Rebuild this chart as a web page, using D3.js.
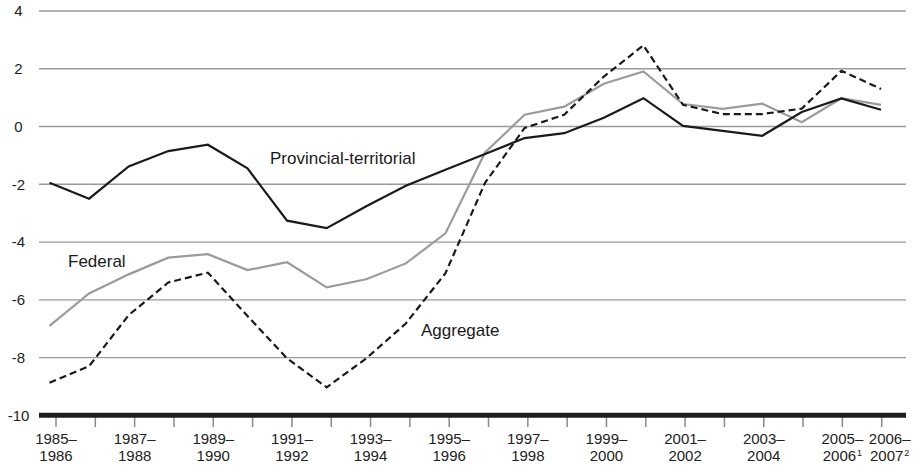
<!DOCTYPE html>
<html>
<head>
<meta charset="utf-8">
<script src="https://cdn.jsdelivr.net/npm/d3@7"></script>
<style>
  body { margin: 0; background: #fff; }
  svg { display: block; font-family: "Liberation Sans", Arial, sans-serif; }
</style>
</head>
<body>
<svg id="chart" width="913" height="467"></svg>
<script>
var years = ['1985', '1986', '1987', '1988', '1989', '1990', '1991', '1992', '1993', '1994', '1995',
    '1996', '1997', '1998', '1999', '2000', '2001', '2002', '2003', '2004', '2005', '2006'];

var provincial = [-1.95, -2.5, -1.38, -0.85, -0.63, -1.45, -3.26, -3.52, -2.76, -2.05, -1.5,
    -0.95, -0.4, -0.23, 0.3, 0.98, 0.02, -0.15, -0.32, 0.5, 0.97, 0.58];
var federal = [-6.9, -5.78, -5.12, -4.54, -4.42, -4.97, -4.7, -5.57, -5.29, -4.74, -3.7,
    -0.9, 0.41, 0.69, 1.48, 1.91, 0.78, 0.61, 0.79, 0.15, 0.98, 0.75];
var aggregate = [-8.87, -8.3, -6.53, -5.4, -5.06, -6.56, -8.03, -9.03, -8.03, -6.82, -5.08,
    -1.95, -0.05, 0.41, 1.73, 2.81, 0.75, 0.43, 0.43, 0.62, 1.93, 1.3];

var yTicks = [-10, -8, -6, -4, -2, 0, 2, 4];
// labelled ticks: index into years, two text lines, footnote mark
var xLabels = [
    {i: 0, a: '1985–', b: '1986', note: ''},
    {i: 2, a: '1987–', b: '1988', note: ''},
    {i: 4, a: '1989–', b: '1990', note: ''},
    {i: 6, a: '1991–', b: '1992', note: ''},
    {i: 8, a: '1993–', b: '1994', note: ''},
    {i: 10, a: '1995–', b: '1996', note: ''},
    {i: 12, a: '1997–', b: '1998', note: ''},
    {i: 14, a: '1999–', b: '2000', note: ''},
    {i: 16, a: '2001–', b: '2002', note: ''},
    {i: 18, a: '2003–', b: '2004', note: ''},
    {i: 20, a: '2005–', b: '2006', note: '1'},
    {i: 21, a: '2006–', b: '2007', note: '2'}
];

var svg = d3.select('#chart');
var left = 39, right = 906;

var y = d3.scaleLinear().domain([-10, 4]).range([415.3, 11]);
var xTick = d3.scalePoint().domain(years).range([56, 881.7]);
var xLine = d3.scalePoint().domain(years).range([49.5, 881]);

// gridlines
svg.append('g').selectAll('line')
    .data(yTicks.filter(function(d){ return d != -10; }))
    .enter().append('line')
    .attr('x1', left).attr('x2', right)
    .attr('y1', function(d){ return y(d); })
    .attr('y2', function(d){ return y(d); })
    .attr('stroke', '#9a9a9a')
    .attr('stroke-width', 1.3);

// y labels
svg.append('g').selectAll('text')
    .data(yTicks)
    .enter().append('text')
    .attr('x', 18.5)
    .attr('y', function(d){ return y(d); })
    .attr('dy', '0.36em')
    .attr('text-anchor', 'middle')
    .attr('font-size', '15px')
    .attr('fill', '#222')
    .text(function(d){ return d; });

// x tick marks
svg.append('g').selectAll('line')
    .data(years)
    .enter().append('line')
    .attr('x1', function(d){ return xTick(d); })
    .attr('x2', function(d){ return xTick(d); })
    .attr('y1', 417).attr('y2', 427)
    .attr('stroke', '#8a8a8a')
    .attr('stroke-width', 1.5);

// thick base line at -10
svg.append('line')
    .attr('x1', left).attr('x2', right)
    .attr('y1', y(-10)).attr('y2', y(-10))
    .attr('stroke', '#1e1e1e')
    .attr('stroke-width', 5);

// x labels
var lab = svg.append('g').selectAll('text')
    .data(xLabels)
    .enter().append('text')
    .attr('text-anchor', 'middle')
    .attr('font-size', '15px')
    .attr('fill', '#222')
    .attr('transform', function(d){
        var dx = d.i == 21 ? 8 : 0;
        return 'translate(' + (xTick(years[d.i]) + dx) + ',0)';
    });
lab.append('tspan').attr('x', 0).attr('y', 444).text(function(d){ return d.a; });
lab.append('tspan').attr('x', 0).attr('y', 461).text(function(d){ return d.b; });
lab.filter(function(d){ return d.note; })
    .append('tspan')
    .attr('font-size', '9px')
    .attr('dx', 1)
    .attr('dy', -5)
    .text(function(d){ return d.note; });

var line = d3.line()
    .x(function(d, i){ return xLine(years[i]); })
    .y(function(d){ return y(d); });

svg.append('path').datum(federal)
    .attr('d', line)
    .attr('fill', 'none')
    .attr('stroke', '#9b9b9b')
    .attr('stroke-width', 2.2);

svg.append('path').datum(aggregate)
    .attr('d', line)
    .attr('fill', 'none')
    .attr('stroke', '#1a1a1a')
    .attr('stroke-width', 2.2)
    .attr('stroke-dasharray', '7,4');

svg.append('path').datum(provincial)
    .attr('d', line)
    .attr('fill', 'none')
    .attr('stroke', '#1a1a1a')
    .attr('stroke-width', 2.2);

// series labels
var notes = [
    {t: 'Provincial-territorial', x: 270, y: 164},
    {t: 'Federal', x: 68, y: 267},
    {t: 'Aggregate', x: 421, y: 336}
];
svg.append('g').selectAll('text')
    .data(notes)
    .enter().append('text')
    .attr('x', function(d){ return d.x; })
    .attr('y', function(d){ return d.y; })
    .attr('font-size', '17px')
    .attr('fill', '#1a1a1a')
    .text(function(d){ return d.t; });
</script>
</body>
</html>
